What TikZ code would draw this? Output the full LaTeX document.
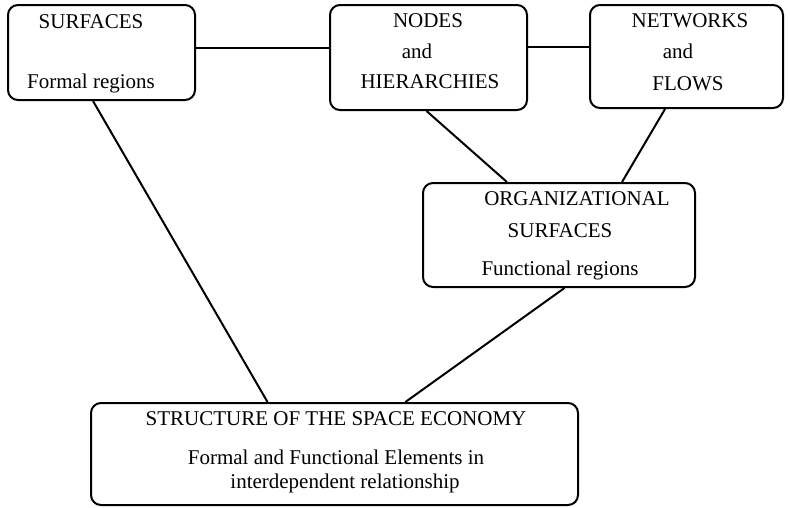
\documentclass[tikz,border=0pt]{standalone}
\usepackage{fontspec}
\setmainfont{Liberation Serif}
\usetikzlibrary{calc}
\begin{document}
\begin{tikzpicture}[x=1pt,y=-1pt,
  box/.style={draw, line width=2pt, rounded corners=10pt, inner sep=0pt},
  lbl/.style={inner sep=0pt, anchor=base, font=\fontsize{21}{25}\selectfont},
  conn/.style={line width=2pt}]
\useasboundingbox (0,0) rectangle (790,507);
% boxes
\node[box, minimum width=187pt, minimum height=95pt]  (surf)  at (101.5,52.5) {};
\node[box, minimum width=197pt, minimum height=105pt] (nodes) at (428.5,57.5) {};
\node[box, minimum width=193pt, minimum height=103pt] (net)   at (686.5,56.5) {};
\node[box, minimum width=272pt, minimum height=104pt] (org)   at (559,235) {};
\node[box, minimum width=487pt, minimum height=102pt] (str)   at (334.5,454) {};
% texts
\node[lbl] (t1) at (91,28) {SURFACES};
\node[lbl] (t2) at (91,88) {Formal regions};
\node[lbl] (t3) at (428,27) {NODES};
\node[lbl] (t4) at (417,58) {and};
\node[lbl] (t5) at (430,88) {HIERARCHIES};
\node[lbl] (t6) at (690,27) {NETWORKS};
\node[lbl] (t7) at (678,58) {and};
\node[lbl] (t8) at (688,90) {FLOWS};
\node[lbl] (t9) at (577,205) {ORGANIZATIONAL};
\node[lbl] (t10) at (560,237) {SURFACES};
\node[lbl] (t11) at (560,275) {Functional regions};
\node[lbl] (t12) at (336,425) {STRUCTURE OF THE SPACE ECONOMY};
\node[lbl] (t13) at (336,464) {Formal and Functional Elements in};
\node[lbl] (t14) at (345,488) {interdependent relationship};
% connectors
\coordinate (a1) at ($(surf.north east)!0.45!(surf.south east)$);
\draw[conn] (a1) -- (a1 -| nodes.west);
\coordinate (a2) at ($(nodes.north east)!0.40!(nodes.south east)$);
\draw[conn] (a2) -- (a2 -| net.west);
\draw[conn] ($(surf.south west)!0.455!(surf.south east)$) -- ($(str.north west)!0.363!(str.north east)$);
\draw[conn] ($(nodes.south west)!0.49!(nodes.south east)$) -- ($(org.north west)!0.31!(org.north east)$);
\draw[conn] ($(net.south west)!0.39!(net.south east)$) -- ($(org.north west)!0.73!(org.north east)$);
\draw[conn] ($(org.south west)!0.52!(org.south east)$) -- ($(str.north west)!0.645!(str.north east)$);
\end{tikzpicture}
\end{document}
